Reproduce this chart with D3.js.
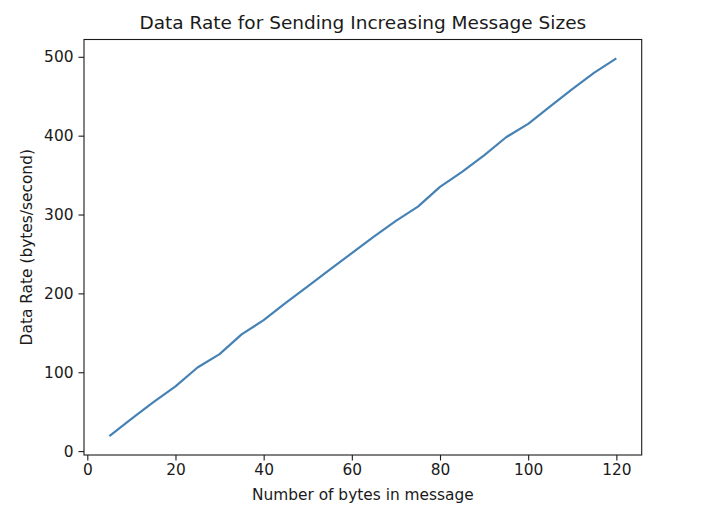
<!DOCTYPE html>
<html>
<head>
<meta charset="utf-8">
<script src="https://cdn.jsdelivr.net/npm/d3@7"></script>
<style>
  html, body { margin: 0; padding: 0; background: #fff; }
  svg { display: block; }
  text { font-family: "DejaVu Sans", sans-serif; fill: #1a1a1a; }
</style>
</head>
<body>
<svg id="chart" width="718" height="512"></svg>
<script>
const messageSizes = [5, 10, 15, 20, 25, 30, 35, 40, 45, 50, 55, 60, 65, 70, 75, 80, 85, 90, 95, 100, 105, 110, 115, 120];
const dataRates = [19, 41, 62, 82, 106, 123, 148, 166, 188, 209, 230, 251, 272, 292, 310, 335, 354, 375, 398, 415, 437, 459, 480, 498];
const xTicks = [0, 20, 40, 60, 80, 100, 120];
const yTicks = [0, 100, 200, 300, 400, 500];
const titleText = "Data Rate for Sending Increasing Message Sizes";
const xLabel = "Number of bytes in message";
const yLabel = "Data Rate (bytes/second)";

(function () {
const svg = d3.select("#chart");
const pl = 84, pr = 641.7, pt = 39.5, pb = 455;
const fs = "15.4px";

const xMin = d3.min(messageSizes), xMax = d3.max(messageSizes);
const yMin = d3.min(dataRates), yMax = d3.max(dataRates);
const xPad = (xMax - xMin) * 0.05, yPad = (yMax - yMin) * 0.05;

const x = d3.scaleLinear().domain([xMin - xPad, xMax + xPad]).range([pl, pr]);
const y = d3.scaleLinear().domain([yMin - yPad, yMax + yPad]).range([pb, pt]);

const xAxis = svg.append("g")
  .attr("transform", `translate(0,${pb})`)
  .call(d3.axisBottom(x).tickValues(xTicks).tickSize(5.5).tickPadding(4).tickSizeOuter(0));
const yAxis = svg.append("g")
  .attr("transform", `translate(${pl},0)`)
  .call(d3.axisLeft(y).tickValues(yTicks).tickSize(5.5).tickPadding(5).tickSizeOuter(0));

[xAxis, yAxis].forEach(a => {
  a.select(".domain").remove();
  a.selectAll(".tick line").attr("stroke", "#1a1a1a").attr("stroke-width", 1.1);
  a.selectAll(".tick text").style("font-family", "DejaVu Sans").style("font-size", fs).attr("fill", "#1a1a1a");
});

svg.append("rect")
  .attr("x", pl).attr("y", pt)
  .attr("width", pr - pl).attr("height", pb - pt)
  .attr("fill", "none").attr("stroke", "#1a1a1a").attr("stroke-width", 1.1);

const line = d3.line()
  .x((d, i) => x(messageSizes[i]))
  .y(d => y(d));

svg.append("path")
  .datum(dataRates)
  .attr("d", line)
  .attr("fill", "none")
  .attr("stroke", "#4682b4")
  .attr("stroke-width", 2.2)
  .attr("stroke-linejoin", "round")
  .attr("stroke-linecap", "butt");

svg.append("text")
  .attr("x", (pl + pr) / 2).attr("y", 29)
  .attr("text-anchor", "middle")
  .style("font-size", "18.5px")
  .text(titleText);

svg.append("text")
  .attr("x", (pl + pr) / 2).attr("y", 500)
  .attr("text-anchor", "middle")
  .style("font-size", fs)
  .text(xLabel);

svg.append("text")
  .attr("transform", `translate(32,${(pt + pb) / 2}) rotate(-90)`)
  .attr("text-anchor", "middle")
  .style("font-size", fs)
  .text(yLabel);
})();
</script>
</body>
</html>
